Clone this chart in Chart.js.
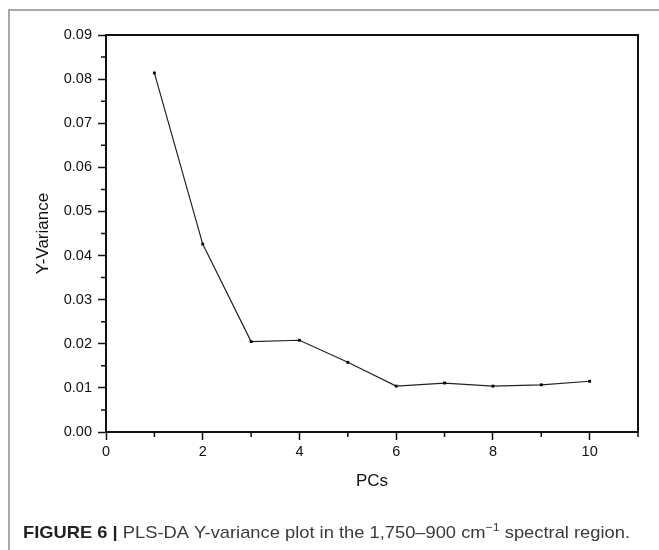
<!DOCTYPE html>
<html>
<head>
<meta charset="utf-8">
<script src="https://cdn.jsdelivr.net/npm/chart.js@4/dist/chart.umd.min.js"></script>
<style>
  html, body { margin: 0; padding: 0; background: #fff; }
  #wrap { position: relative; width: 659px; height: 550px; }
</style>
</head>
<body>
<div id="wrap"><canvas id="chart"></canvas></div>
<script>
// data
const pcs = [1, 2, 3, 4, 5, 6, 7, 8, 9, 10];
const yVariance = [0.0814, 0.0426, 0.0205, 0.0208, 0.0158, 0.0104, 0.0111, 0.0104, 0.0107, 0.0115];

// axis ticks
const xMajor = [0, 2, 4, 6, 8, 10];
const xMinor = [1, 3, 5, 7, 9, 11];
const yMajor = [0, 0.01, 0.02, 0.03, 0.04, 0.05, 0.06, 0.07, 0.08, 0.09];
const yMinor = [0.005, 0.015, 0.025, 0.035, 0.045, 0.055, 0.065, 0.075, 0.085];

const captionBold = "FIGURE 6 |";
const captionText = " PLS-DA Y-variance plot in the 1,750\u2013900 cm";
const captionSup = "\u22121";
const captionEnd = " spectral region.";

const FONT = "'Liberation Sans', Arial, sans-serif";
const INK = "#111";

// minor ticks, box top/right, figure frame and caption
const extras = {
  id: "extras",
  afterDraw(chart) {
    const ctx = chart.ctx;
    const a = chart.chartArea;
    const xs = chart.scales.x, ys = chart.scales.y;
    ctx.save();

    // minor ticks (outward)
    ctx.strokeStyle = INK;
    ctx.lineWidth = 1.5;
    ctx.beginPath();
    xMinor.forEach(v => {
      const px = xs.getPixelForValue(v);
      ctx.moveTo(px, a.bottom); ctx.lineTo(px, a.bottom + 5);
    });
    yMinor.forEach(v => {
      const py = ys.getPixelForValue(v);
      ctx.moveTo(a.left, py); ctx.lineTo(a.left - 5, py);
    });
    ctx.stroke();

    // top and right of the box
    ctx.lineWidth = 2;
    ctx.beginPath();
    ctx.moveTo(a.left, a.top); ctx.lineTo(a.right, a.top); ctx.lineTo(a.right, a.bottom);
    ctx.stroke();

    // figure frame (top + left)
    ctx.strokeStyle = "#8a8a8a";
    ctx.lineWidth = 1.5;
    ctx.beginPath();
    ctx.moveTo(9, 550); ctx.lineTo(9, 10); ctx.lineTo(659, 10);
    ctx.stroke();

    // caption, squeezed to the width of the condensed original
    const x0 = 23, base = 538, target = 607;
    const fb = "bold 17px " + FONT, fn = "17px " + FONT, fs = "11.5px " + FONT;
    ctx.font = fb; const w1 = ctx.measureText(captionBold).width;
    ctx.font = fn; const w2 = ctx.measureText(captionText).width;
    ctx.font = fs; const w3 = ctx.measureText(captionSup).width;
    ctx.font = fn; const w4 = ctx.measureText(captionEnd).width;
    const k = target / (w1 + w2 + w3 + w4);
    ctx.translate(x0, base);
    ctx.scale(k, 1);
    ctx.textBaseline = "alphabetic";
    ctx.textAlign = "left";
    ctx.fillStyle = "#231f20";
    ctx.font = fb; ctx.fillText(captionBold, 0, 0);
    ctx.fillStyle = "#3a3a3a";
    ctx.font = fn; ctx.fillText(captionText, w1, 0);
    ctx.font = fs; ctx.fillText(captionSup, w1 + w2, -7);
    ctx.font = fn; ctx.fillText(captionEnd, w1 + w2 + w3, 0);
    ctx.restore();
  }
};

new Chart(document.getElementById("chart"), {
  type: "line",
  data: {
    datasets: [{
      data: pcs.map((x, i) => ({ x, y: yVariance[i] })),
      borderColor: "#222",
      borderWidth: 1.2,
      pointStyle: "rect",
      pointRadius: 2,
      pointBackgroundColor: "#000",
      pointBorderColor: "#000",
      pointBorderWidth: 0,
      tension: 0
    }]
  },
  options: {
    responsive: true,
    maintainAspectRatio: false,
    animation: false,
    devicePixelRatio: 1,
    layout: { padding: { top: 35, right: 21, left: 0, bottom: 0 } },
    plugins: { legend: { display: false }, tooltip: { enabled: false } },
    scales: {
      x: {
        type: "linear",
        min: 0,
        max: 11,
        afterBuildTicks: s => { s.ticks = xMajor.map(v => ({ value: v })); },
        afterFit: s => { s.height = 118; },
        grid: { drawOnChartArea: false, drawTicks: true, tickLength: 8, tickColor: INK, tickWidth: 1.5 },
        border: { display: true, color: INK, width: 2 },
        ticks: { color: INK, font: { family: FONT, size: 14.5 }, padding: 3, maxRotation: 0, callback: v => String(v) },
        title: { display: true, text: "PCs", color: INK, font: { family: FONT, size: 17 }, padding: { top: 0, bottom: 58 } }
      },
      y: {
        type: "linear",
        min: 0,
        max: 0.09,
        afterBuildTicks: s => { s.ticks = yMajor.map(v => ({ value: v })); },
        afterFit: s => { s.width = 106; },
        grid: { drawOnChartArea: false, drawTicks: true, tickLength: 8, tickColor: INK, tickWidth: 1.5 },
        border: { display: true, color: INK, width: 2 },
        ticks: { color: INK, font: { family: FONT, size: 14.5 }, padding: 6, callback: v => v.toFixed(2) },
        title: { display: true, text: "Y-Variance", color: INK, font: { family: FONT, size: 17 }, padding: { top: 33, bottom: 0 } }
      }
    }
  },
  plugins: [extras]
});
</script>
</body>
</html>
